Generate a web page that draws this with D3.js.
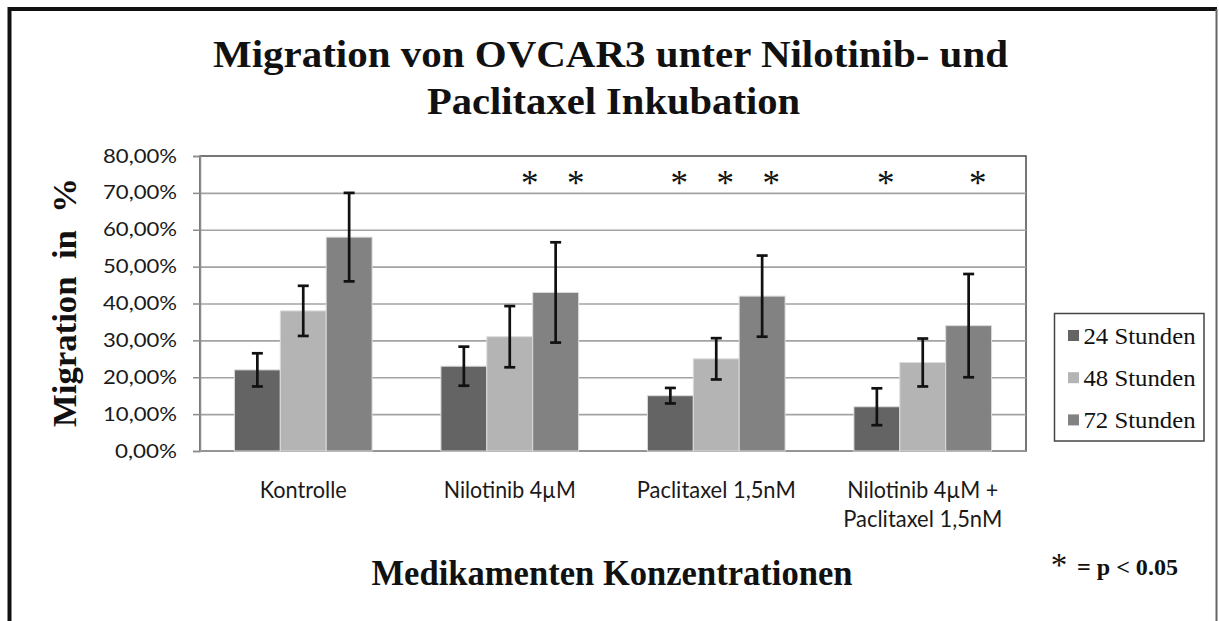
<!DOCTYPE html>
<html>
<head>
<meta charset="utf-8">
<script src="https://cdn.jsdelivr.net/npm/d3@7"></script>
<style>
  html, body { margin: 0; padding: 0; background: #fff; }
  svg { display: block; }
</style>
</head>
<body>
<svg id="chart" width="1219" height="621"></svg>
<script>
// ---- data ----
const categories = ["Kontrolle", "Nilotinib 4µM", "Paclitaxel 1,5nM", "Nilotinib 4µM + Paclitaxel 1,5nM"];
const series = ["24 Stunden", "48 Stunden", "72 Stunden"];
const values24 = [0.22, 0.23, 0.15, 0.12];
const values48 = [0.38, 0.31, 0.25, 0.24];
const values72 = [0.58, 0.43, 0.42, 0.34];
const errors24 = [0.045, 0.053, 0.021, 0.050];
const errors48 = [0.068, 0.083, 0.056, 0.065];
const errors72 = [0.120, 0.136, 0.110, 0.140];
const significant24 = [false, false, true, true];
const significant48 = [false, true, true, false];
const significant72 = [false, true, true, true];
const yTicks = [0, 0.1, 0.2, 0.3, 0.4, 0.5, 0.6, 0.7, 0.8];
const titleLines = ["Migration von OVCAR3 unter Nilotinib- und", "Paclitaxel Inkubation"];
const yTitle = "Migration\u00a0 in\u00a0 %";
const xTitle = "Medikamenten Konzentrationen";
const sigNote = "= p < 0.05";

// ---- layout & style ----
const serif = "'Liberation Serif', 'Times New Roman', serif";
const sans = "Lato, 'Open Sans', sans-serif";
const colors = ["#646464", "#b4b4b4", "#828282"];
const plot = { left: 200, right: 1026, top: 156, bottom: 451 };

const valuesBySeries = [values24, values48, values72];
const errorsBySeries = [errors24, errors48, errors72];
const sigBySeries = [significant24, significant48, significant72];

const rows = categories.map((c, i) => ({
  category: c,
  bars: series.map((s, j) => ({
    category: c, series: s, si: j,
    value: valuesBySeries[j][i],
    err: errorsBySeries[j][i],
    sig: sigBySeries[j][i]
  }))
}));

const svg = d3.select("#chart");

// fit a text element to an exact width
function fit(sel, w) {
  sel.attr("textLength", w).attr("lengthAdjust", "spacingAndGlyphs");
  return sel;
}

// outer frame
svg.append("path").attr("d", "M9.5,621 V9 H1217").attr("fill", "none")
  .attr("stroke", "#111").attr("stroke-width", 4);
svg.append("line").attr("x1", 1216.5).attr("x2", 1216.5).attr("y1", 9).attr("y2", 621)
  .attr("stroke", "#666").attr("stroke-width", 2);

// scales
const x = d3.scaleBand().domain(categories).range([plot.left, plot.right]).padding(0);
const bw = x.bandwidth();
const barW = bw / 4.5;
const xs = d3.scaleBand().domain(series).range([barW * 0.75, bw - barW * 0.75]).padding(0);
const y = d3.scaleLinear().domain([0, 0.8]).range([plot.bottom, plot.top]);

const locale = d3.formatLocale({ decimal: ",", thousands: ".", grouping: [3], currency: ["", " €"] });
const pct = locale.format(".2%");

// plot frame (top & right darker)
svg.append("rect").attr("x", plot.left).attr("y", plot.top)
  .attr("width", plot.right - plot.left).attr("height", plot.bottom - plot.top)
  .attr("fill", "#fff").attr("stroke", "#4a4a4a").attr("stroke-width", 1.5);

// gridlines
const grid = svg.append("g").attr("transform", `translate(${plot.left},0)`)
  .call(d3.axisLeft(y).tickValues(yTicks.slice(1, -1)).tickSize(-(plot.right - plot.left)).tickFormat(""));
grid.select(".domain").remove();
grid.selectAll(".tick line").attr("stroke", "#a3a3a3").attr("stroke-width", 1.6);

// y axis
const yAxis = svg.append("g").attr("transform", `translate(${plot.left},0)`)
  .call(d3.axisLeft(y).tickValues(yTicks).tickSize(7).tickPadding(16).tickFormat(pct));
yAxis.select(".domain").attr("stroke", "#8c8c8c").attr("stroke-width", 1.5);
yAxis.selectAll(".tick line").attr("stroke", "#8c8c8c").attr("stroke-width", 1.5);
yAxis.selectAll(".tick text")
  .attr("font-family", sans).attr("font-size", 19).attr("fill", "#1a1a1a")
  .each(function (d) {
    const w = d >= 0.1 ? 74 : 62;
    fit(d3.select(this), w);
  });

// x axis line
svg.append("line").attr("x1", plot.left).attr("x2", plot.right)
  .attr("y1", plot.bottom).attr("y2", plot.bottom)
  .attr("stroke", "#a0a0a0").attr("stroke-width", 1.6);

// bars
const groups = svg.append("g").selectAll("g").data(rows).join("g")
  .attr("transform", d => `translate(${x(d.category)},0)`);

groups.selectAll("rect").data(d => d.bars).join("rect")
  .attr("x", d => xs(d.series))
  .attr("y", d => y(d.value))
  .attr("width", xs.bandwidth())
  .attr("height", d => y(0) - y(d.value))
  .attr("fill", d => colors[d.si])
  .attr("stroke", "#dcdcdc").attr("stroke-width", 1);

// error bars
const eb = groups.selectAll("g.err").data(d => d.bars).join("g").attr("class", "err")
  .attr("stroke", "#111").attr("stroke-width", 2.7);
eb.append("line")
  .attr("x1", d => xs(d.series) + xs.bandwidth() / 2).attr("x2", d => xs(d.series) + xs.bandwidth() / 2)
  .attr("y1", d => y(d.value + d.err)).attr("y2", d => y(d.value - d.err));
[1, -1].forEach(s => {
  eb.append("line")
    .attr("x1", d => xs(d.series) + xs.bandwidth() / 2 - 5.5).attr("x2", d => xs(d.series) + xs.bandwidth() / 2 + 5.5)
    .attr("y1", d => y(d.value + s * d.err)).attr("y2", d => y(d.value + s * d.err));
});

// significance marks
const starNudge = { "Nilotinib 4µM": 20 };
groups.selectAll("text.star").data(d => d.bars.filter(b => b.sig)).join("text")
  .attr("class", "star")
  .attr("x", d => xs(d.series) + xs.bandwidth() / 2 + (starNudge[d.category] ?? 9))
  .attr("y", 195)
  .attr("text-anchor", "middle")
  .attr("font-family", serif).attr("font-size", 35).attr("fill", "#111")
  .text("*");

// category labels
groups.each(function (d) {
  const g = d3.select(this);
  const lines = d.category.includes(" + ")
    ? [d.category.split(" + ")[0] + " +", d.category.split(" + ")[1]]
    : [d.category];
  const widths = { "Kontrolle": 87, "Nilotinib 4µM": 132, "Paclitaxel 1,5nM": 159, "Nilotinib 4µM +": 151 };
  lines.forEach((ln, k) => {
    fit(g.append("text")
      .attr("x", bw / 2).attr("y", 498 + k * 28.5)
      .attr("text-anchor", "middle")
      .attr("font-family", sans).attr("font-size", 23).attr("fill", "#1a1a1a")
      .text(ln), widths[ln]);
  });
});

// title
fit(svg.append("text").attr("x", 610.5).attr("y", 66.5).attr("text-anchor", "middle")
  .attr("font-family", serif).attr("font-weight", "bold").attr("font-size", 37).attr("fill", "#111")
  .text(titleLines[0]), 795);
fit(svg.append("text").attr("x", 613.5).attr("y", 113.5).attr("text-anchor", "middle")
  .attr("font-family", serif).attr("font-weight", "bold").attr("font-size", 37).attr("fill", "#111")
  .text(titleLines[1]), 373);

// axis titles
fit(svg.append("text").attr("transform", "translate(76,302.5) rotate(-90)").attr("text-anchor", "middle")
  .attr("font-family", serif).attr("font-weight", "bold").attr("font-size", 34).attr("fill", "#111")
  .text(yTitle), 249);
fit(svg.append("text").attr("x", 612).attr("y", 585).attr("text-anchor", "middle")
  .attr("font-family", serif).attr("font-weight", "bold").attr("font-size", 35).attr("fill", "#111")
  .text(xTitle), 481);

// legend
const legend = svg.append("g");
legend.append("rect").attr("x", 1054.5).attr("y", 313.5).attr("width", 149.5).attr("height", 127.5)
  .attr("fill", "#fff").attr("stroke", "#444").attr("stroke-width", 1.5);
series.forEach((s, j) => {
  const base = 344 + j * 42.2;
  legend.append("rect").attr("x", 1068).attr("y", base - 14).attr("width", 11).attr("height", 11)
    .attr("fill", colors[j]);
  fit(legend.append("text").attr("x", 1083.5).attr("y", base)
    .attr("font-family", serif).attr("font-size", 23.5).attr("fill", "#111").text(s), 112);
});

// significance note
svg.append("text").attr("x", 1059).attr("y", 576).attr("text-anchor", "middle")
  .attr("font-family", serif).attr("font-size", 33).attr("fill", "#111").text("*");
fit(svg.append("text").attr("x", 1077).attr("y", 575)
  .attr("font-family", serif).attr("font-weight", "bold").attr("font-size", 23).attr("fill", "#111")
  .text(sigNote), 101);
</script>
</body>
</html>
